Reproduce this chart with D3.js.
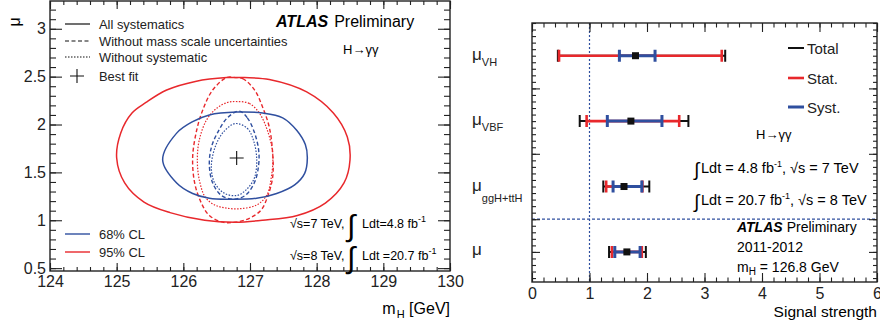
<!DOCTYPE html>
<html>
<head>
  <meta charset="utf-8">
  <title>H→γγ mass / signal strength</title>
  <script src="https://d3js.org/d3.v7.min.js"></script>
  <style>
    body { margin: 0; background: #fff; }
    svg { display: block; font-family: "Liberation Sans", Arial, Helvetica, sans-serif; }
    .tick text { font-family: "Liberation Sans", Arial, Helvetica, sans-serif; }
  </style>
</head>
<body>
  <svg width="880" height="327"></svg>

  <script>
    // ---- left panel data: contours in (mH [GeV], mu)
    const c95All = [[125.00,1.65],[125.06,1.91],[125.23,2.12],[125.44,2.23],[125.75,2.36],[126.18,2.45],
      [126.65,2.49],[126.92,2.49],[127.29,2.47],[127.85,2.34],[128.25,2.12],[128.46,1.87],[128.50,1.63],
      [128.41,1.39],[128.13,1.18],[127.71,1.05],[127.19,1.00],[126.78,0.98],[126.32,1.00],[125.80,1.08],
      [125.41,1.19],[125.12,1.39]];
    const c68All = [[125.69,1.63],[125.90,1.91],[126.14,2.03],[126.39,2.10],[126.80,2.13],[127.19,2.12],
      [127.49,2.07],[127.70,1.94],[127.83,1.79],[127.86,1.65],[127.82,1.49],[127.67,1.37],[127.40,1.28],
      [127.10,1.23],[126.69,1.22],[126.39,1.23],[126.14,1.28],[125.90,1.39]];
    const c95NoMass = [[126.78,2.49],[126.89,2.48],[127.07,2.36],[127.19,2.18],[127.29,1.97],[127.34,1.70],
      [127.34,1.45],[127.26,1.24],[127.17,1.11],[126.99,1.02],[126.78,0.98],[126.59,0.98],[126.39,1.05],
      [126.27,1.18],[126.17,1.39],[126.14,1.66],[126.20,1.94],[126.29,2.15],[126.44,2.36],[126.65,2.49]];
    const c68NoMass = [[126.84,2.14],[126.96,2.07],[127.07,1.91],[127.13,1.73],[127.13,1.58],[127.07,1.40],
      [126.93,1.26],[126.75,1.22],[126.57,1.26],[126.44,1.39],[126.39,1.58],[126.42,1.76],[126.51,1.91],
      [126.66,2.07]];
    const c95NoSyst = [[126.81,2.24],[126.99,2.22],[127.14,2.12],[127.26,1.94],[127.34,1.70],[127.32,1.45],
      [127.25,1.26],[127.10,1.16],[126.84,1.12],[126.62,1.13],[126.47,1.16],[126.33,1.24],[126.24,1.42],
      [126.21,1.63],[126.24,1.84],[126.35,2.05],[126.50,2.17],[126.66,2.23]];
    const c68NoSyst = [[126.78,2.01],[126.96,1.96],[127.05,1.84],[127.10,1.65],[127.07,1.45],[126.96,1.33],
      [126.81,1.26],[126.62,1.28],[126.47,1.39],[126.42,1.56],[126.48,1.77],[126.60,1.92]];
    const bestFit = [126.8, 1.65];

    const mhTicks = [124, 125, 126, 127, 128, 129, 130];
    const muTicks = [0.5, 1, 1.5, 2, 2.5, 3];
    const styleLabels = ["All systematics", "Without mass scale uncertainties", "Without systematic", "Best fit"];
    const clLabels = ["68% CL", "95% CL"];

    // ---- right panel data: signal strengths per production mode
    const modes = ["", "ggH+ttH", "VBF", "VH"];   // subscripts of mu, bottom to top
    const muCentral = [1.65, 1.60, 1.72, 1.80];
    const totalLo = [1.34, 1.24, 0.83, 0.45];
    const totalHi = [1.98, 2.04, 2.72, 3.36];
    const statLo  = [1.39, 1.29, 0.95, 0.47];
    const statHi  = [1.91, 1.92, 2.56, 3.30];
    const systLo  = [1.44, 1.41, 1.31, 1.52];
    const systHi  = [1.88, 1.91, 2.26, 2.14];
    const ssTicks = [0, 1, 2, 3, 4, 5, 6];
    const errLabels = ["Total", "Stat.", "Syst."];

    const RED = "#e8282c", BLUE = "#2f4f9f";
    const svg = d3.select("svg");

    function frameTicks(g, sx, sy, o) {
      // ticks on all four sides, pointing inward
      const [x0, x1] = sx.range(), [y0, y1] = [sy.range()[1], sy.range()[0]];
      const ax = [
        [d3.axisBottom(sx), `translate(0,${y1})`, o.xMaj, o.xMin],
        [d3.axisTop(sx), `translate(0,${y0})`, o.xMaj, o.xMin],
        [d3.axisLeft(sy), `translate(${x0},0)`, o.yMaj, o.yMin],
        [d3.axisRight(sy), `translate(${x1},0)`, o.yMaj, o.yMin]
      ];
      ax.forEach(([a, tr, maj, min], i) => {
        const isX = i < 2;
        g.append("g").attr("transform", tr)
          .call(a.tickValues(min).tickSize(-(isX ? o.xMinLen : o.yMinLen)).tickFormat(""))
          .call(s => s.select(".domain").remove());
        const showLab = (i === 0) || (i === 2 && o.yLabels);
        const gg = g.append("g").attr("transform", tr)
          .call(a.tickValues(maj).tickSize(-(isX ? o.xMajLen : o.yMajLen))
            .tickPadding(isX ? o.xPad : 4)
            .tickFormat(showLab ? (o.fmt || d3.format("")) : ""))
          .call(s => s.select(".domain").remove());
        gg.selectAll(".tick text").attr("font-size", 16).attr("fill", "#222");
      });
      g.selectAll(".tick line").attr("stroke", "#222").attr("stroke-width", 1.1);
      g.append("rect").attr("x", x0).attr("y", y0).attr("width", x1 - x0).attr("height", y1 - y0)
        .attr("fill", "none").attr("stroke", "#222").attr("stroke-width", 1.4);
    }

    // ================= LEFT PANEL =================
    const gl = svg.append("g");
    const x = d3.scaleLinear().domain([124, 130]).range([50, 450]);
    const y = d3.scaleLinear().domain([0.47, 3.29]).range([271, 1]);

    const d3range = (a, b, s) => d3.range(Math.round(a / s), Math.round(b / s) + 1).map(k => +(k * s).toFixed(3));

    const line = d3.line().x(d => x(d[0])).y(d => y(d[1])).curve(d3.curveCatmullRomClosed.alpha(0.5));
    const contours = [
      { pts: c95NoSyst, col: RED, dash: "1.5,1.5", w: 1.2 },
      { pts: c68NoSyst, col: BLUE, dash: "1.5,1.5", w: 1.2 },
      { pts: c95NoMass, col: RED, dash: "4,2.5", w: 1.4 },
      { pts: c68NoMass, col: BLUE, dash: "4,2.5", w: 1.4 },
      { pts: c95All, col: RED, dash: null, w: 1.5 },
      { pts: c68All, col: BLUE, dash: null, w: 1.5 }
    ];
    gl.selectAll("path.contour").data(contours).join("path")
      .attr("class", "contour")
      .attr("d", d => line(d.pts))
      .attr("fill", "none")
      .attr("stroke", d => d.col)
      .attr("stroke-width", d => d.w)
      .attr("stroke-dasharray", d => d.dash);

    // best-fit cross
    const bx = x(bestFit[0]), by = y(bestFit[1]);
    gl.append("path").attr("d", `M${bx - 7},${by}H${bx + 7}M${bx},${by - 7}V${by + 7}`)
      .attr("stroke", "#111").attr("stroke-width", 1.1);

    frameTicks(gl, x, y, {
      xMaj: mhTicks, xMin: d3range(124, 130, 0.2), yMaj: muTicks, yMin: d3range(0.5, 3.2, 0.1),
      xMajLen: 8, xMinLen: 4, yMajLen: 12, yMinLen: 6, xPad: 5, yLabels: true
    });

    // axis titles
    gl.append("text").attr("transform", "translate(20,22) rotate(-90)").attr("text-anchor", "middle")
      .attr("font-size", 16).text("μ");
    const xt = gl.append("text").attr("x", 450).attr("y", 314).attr("text-anchor", "end").attr("font-size", 16);
    xt.append("tspan").text("m");
    xt.append("tspan").attr("font-size", 11).attr("dy", 4).attr("dx", 1).text("H");
    xt.append("tspan").attr("dy", -4).text(" [GeV]");

    // style legend
    const legY = [24, 41, 57, 76];
    const legDash = [null, "4,2.5", "1.5,1.5"];
    styleLabels.forEach((t, i) => {
      if (i < 3) {
        gl.append("line").attr("x1", 65).attr("x2", 90).attr("y1", legY[i]).attr("y2", legY[i])
          .attr("stroke", "#111").attr("stroke-width", 1.2).attr("stroke-dasharray", legDash[i]);
      } else {
        gl.append("path").attr("d", `M70,${legY[i]}H84M77,${legY[i] - 7}V${legY[i] + 7}`)
          .attr("stroke", "#111").attr("stroke-width", 1.1);
      }
      gl.append("text").attr("x", 99).attr("y", legY[i] + 4.5).attr("font-size", 12.9).attr("fill", "#222").text(t);
    });
    const clY = [234, 252], clCol = [BLUE, RED];
    clLabels.forEach((t, i) => {
      gl.append("line").attr("x1", 65).attr("x2", 90).attr("y1", clY[i]).attr("y2", clY[i])
        .attr("stroke", clCol[i]).attr("stroke-width", 1.4);
      gl.append("text").attr("x", 99).attr("y", clY[i] + 4.5).attr("font-size", 12.9).attr("fill", "#222").text(t);
    });

    const at = gl.append("text").attr("x", 276).attr("y", 27).attr("font-size", 16);
    at.append("tspan").attr("font-weight", "bold").attr("font-style", "italic").text("ATLAS");
    at.append("tspan").attr("dx", 6).text("Preliminary");
    gl.append("text").attr("x", 343).attr("y", 54).attr("font-size", 13).text("H→γγ");

    function lumiLeft(yb, sqrt, lumi) {
      gl.append("text").attr("x", 290).attr("y", yb).attr("font-size", 12.5).text(`√s=${sqrt} TeV,`);
      gl.append("text").attr("x", 347).attr("y", yb + 8).attr("font-size", 30).attr("font-weight", 300).text("∫");
      const t = gl.append("text").attr("x", 362).attr("y", yb).attr("font-size", 12.5).text(lumi);
      t.append("tspan").attr("font-size", 9).attr("dy", -6).text("-1");
    }
    lumiLeft(228, 7, "Ldt=4.8 fb");
    lumiLeft(260, 8, "Ldt =20.7 fb");

    // ================= RIGHT PANEL =================
    const gr = svg.append("g");
    const xs = d3.scaleLinear().domain([0, 6]).range([532, 877]);
    const ys = d3.scaleLinear().domain([-0.46, 3.5]).range([282, 23]);

    // reference lines
    gr.append("line").attr("x1", xs(1)).attr("x2", xs(1)).attr("y1", ys(3.5)).attr("y2", ys(-0.46))
      .attr("stroke", BLUE).attr("stroke-width", 1.2).attr("stroke-dasharray", "2,2");
    gr.append("line").attr("x1", xs(0)).attr("x2", xs(6)).attr("y1", ys(0.5)).attr("y2", ys(0.5))
      .attr("stroke", BLUE).attr("stroke-width", 1.2).attr("stroke-dasharray", "3,2");

    frameTicks(gr, xs, ys, {
      xMaj: ssTicks, xMin: d3range(0, 6, 0.2), yMaj: [0, 0.5, 1.5, 2.5], yMin: d3range(-0.4, 3.5, 0.1),
      xMajLen: 9, xMinLen: 4.5, yMajLen: 8, yMinLen: 4, xPad: 6, yLabels: false
    });

    const idx = d3.range(modes.length);
    const layers = [
      { lo: totalLo, hi: totalHi, col: "#111", w: 2, cap: 6 },
      { lo: statLo, hi: statHi, col: RED, w: 2.6, cap: 6 },
      { lo: systLo, hi: systHi, col: BLUE, w: 3, cap: 6 }
    ];
    layers.forEach(L => {
      const g = gr.append("g").attr("stroke", L.col).attr("stroke-width", L.w);
      g.selectAll("path").data(idx).join("path")
        .attr("fill", "none")
        .attr("d", i => {
          const a = xs(L.lo[i]), b = xs(L.hi[i]), c = ys(i);
          return `M${a},${c}H${b}M${a},${c - L.cap}V${c + L.cap}M${b},${c - L.cap}V${c + L.cap}`;
        });
    });
    gr.selectAll("rect.pt").data(idx).join("rect").attr("class", "pt")
      .attr("x", i => xs(muCentral[i]) - 3.5).attr("y", i => ys(i) - 3.5)
      .attr("width", 7).attr("height", 7).attr("fill", "#111");

    // category labels
    const subDy = [0, 11, 6, 6];
    idx.forEach(i => {
      const t = gr.append("text").attr("x", 472).attr("y", ys(i) + (i === 0 ? 3 : 4)).attr("font-size", 17).attr("fill", "#222");
      t.append("tspan").text("μ");
      if (modes[i]) t.append("tspan").attr("font-size", 11).attr("dy", subDy[i]).text(modes[i]);
    });

    // legend
    const lgY = [48, 78, 107];
    errLabels.forEach((t, i) => {
      gr.append("line").attr("x1", 788).attr("x2", 804).attr("y1", lgY[i]).attr("y2", lgY[i])
        .attr("stroke", layers[i].col).attr("stroke-width", layers[i].w);
      gr.append("text").attr("x", 807).attr("y", lgY[i] + 5.5).attr("font-size", 15).attr("fill", "#222").text(t);
    });
    gr.append("text").attr("x", 756).attr("y", 139).attr("font-size", 13).text("H→γγ");

    function lumiRight(yb, lumi, sqrt) {
      gr.append("text").attr("x", 694).attr("y", yb + 3).attr("font-size", 19).text("∫");
      const t = gr.append("text").attr("x", 701).attr("y", yb).attr("font-size", 14.5).text(`Ldt = ${lumi} fb`);
      t.append("tspan").attr("font-size", 9).attr("dy", -6).text("-1");
      t.append("tspan").attr("dy", 6).text(`, √s = ${sqrt} TeV`);
    }
    lumiRight(173, "4.8", 7);
    lumiRight(205, "20.7", 8);

    const at2 = gr.append("text").attr("x", 737).attr("y", 232).attr("font-size", 14);
    at2.append("tspan").attr("font-weight", "bold").attr("font-style", "italic").text("ATLAS");
    at2.append("tspan").attr("dx", 4).text("Preliminary");
    gr.append("text").attr("x", 737).attr("y", 252).attr("font-size", 14).text("2011-2012");
    const mh = gr.append("text").attr("x", 737).attr("y", 272).attr("font-size", 14);
    mh.append("tspan").text("m");
    mh.append("tspan").attr("font-size", 10).attr("dy", 3).text("H");
    mh.append("tspan").attr("dy", -3).text(" = 126.8 GeV");

    gr.append("text").attr("x", 877).attr("y", 317).attr("text-anchor", "end").attr("font-size", 15.5).text("Signal strength");
  </script>
</body>
</html>
